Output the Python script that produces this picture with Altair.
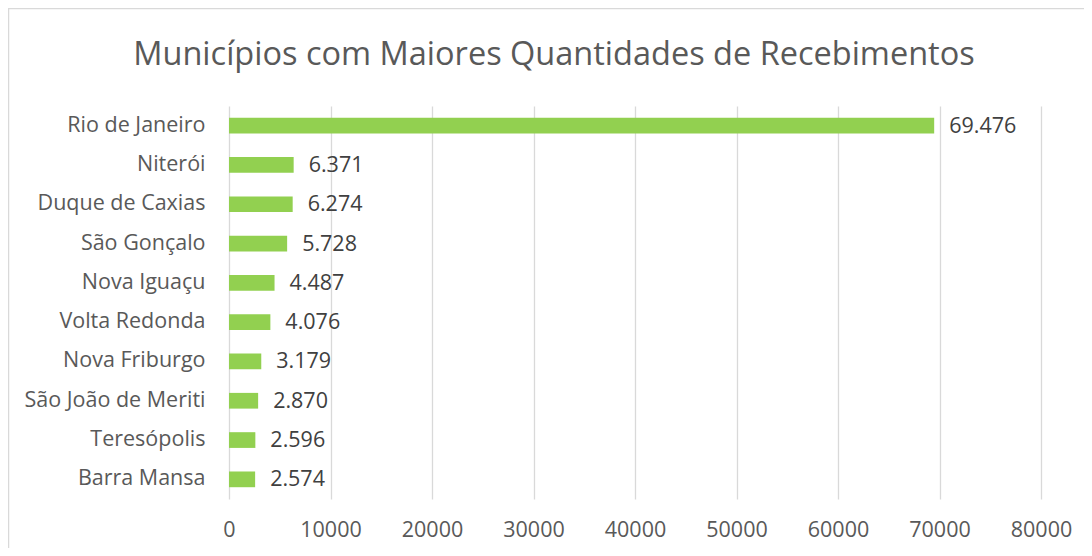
import altair as alt
import pandas as pd

municipios = ["Rio de Janeiro", "Niterói", "Duque de Caxias", "São Gonçalo", "Nova Iguaçu",
              "Volta Redonda", "Nova Friburgo", "São João de Meriti", "Teresópolis", "Barra Mansa"]
recebimentos = [69476, 6371, 6274, 5728, 4487, 4076, 3179, 2870, 2596, 2574]
x_ticks = [0, 10000, 20000, 30000, 40000, 50000, 60000, 70000, 80000]
titulo = "Municípios com Maiores Quantidades de Recebimentos"

df = pd.DataFrame({"municipio": municipios, "valor": recebimentos})

FONT = "Open Sans"
FS = 21.5

base = alt.Chart(df).encode(
    y=alt.Y("municipio:N", sort=municipios, title=None,
            scale=alt.Scale(paddingInner=0.6, paddingOuter=0.3),
            axis=alt.Axis(ticks=False, domain=False, labelPadding=24, labelFontSize=FS,
                          labelColor="#595959", labelFont=FONT, grid=False,
                          labelLimit=400)),
)

bars = base.mark_bar(color="#92D050").encode(
    x=alt.X("valor:Q", title=None,
            scale=alt.Scale(domain=[0, 80000], nice=False),
            axis=alt.Axis(values=x_ticks, format="d", ticks=False, domain=False,
                          grid=True, gridColor="#D9D9D9", gridWidth=1.3,
                          labelPadding=20, labelFontSize=FS, labelColor="#595959",
                          labelFont=FONT, labelFlush=False, labelOverlap=False)),
)

labels = base.mark_text(align="left", baseline="middle", dx=15, dy=1, fontSize=FS,
                        font=FONT, color="#404040").encode(
    x=alt.X("valor:Q"),
    text=alt.Text("valor:Q", format=",d"),
)

frame = alt.Chart(pd.DataFrame({"k": [0]})).mark_rect(
    fillOpacity=0, stroke="#D9D9D9", strokeWidth=1.5
).encode(
    x=alt.value(-220.5), x2=alt.value(1000),
    y=alt.value(-97.5), y2=alt.value(700),
)

chart = alt.layer(frame, bars, labels).properties(
    width=812, height=393,
    autosize=alt.AutoSizeParams(type="none"),
    padding={"left": 221, "top": 98, "right": 43, "bottom": 49},
    title=alt.TitleParams(titulo, fontSize=32.5, font=FONT, fontWeight="normal",
                          color="#595959", anchor="middle", frame="group",
                          baseline="alphabetic", dx=-81, dy=90, offset=0),
).configure(
    locale={"number": {"decimal": ",", "thousands": ".", "grouping": [3],
                       "currency": ["R$", ""]}}
).configure_view(stroke=None)

chart.save("out.html", embed_options={"renderer": "svg", "actions": False})
